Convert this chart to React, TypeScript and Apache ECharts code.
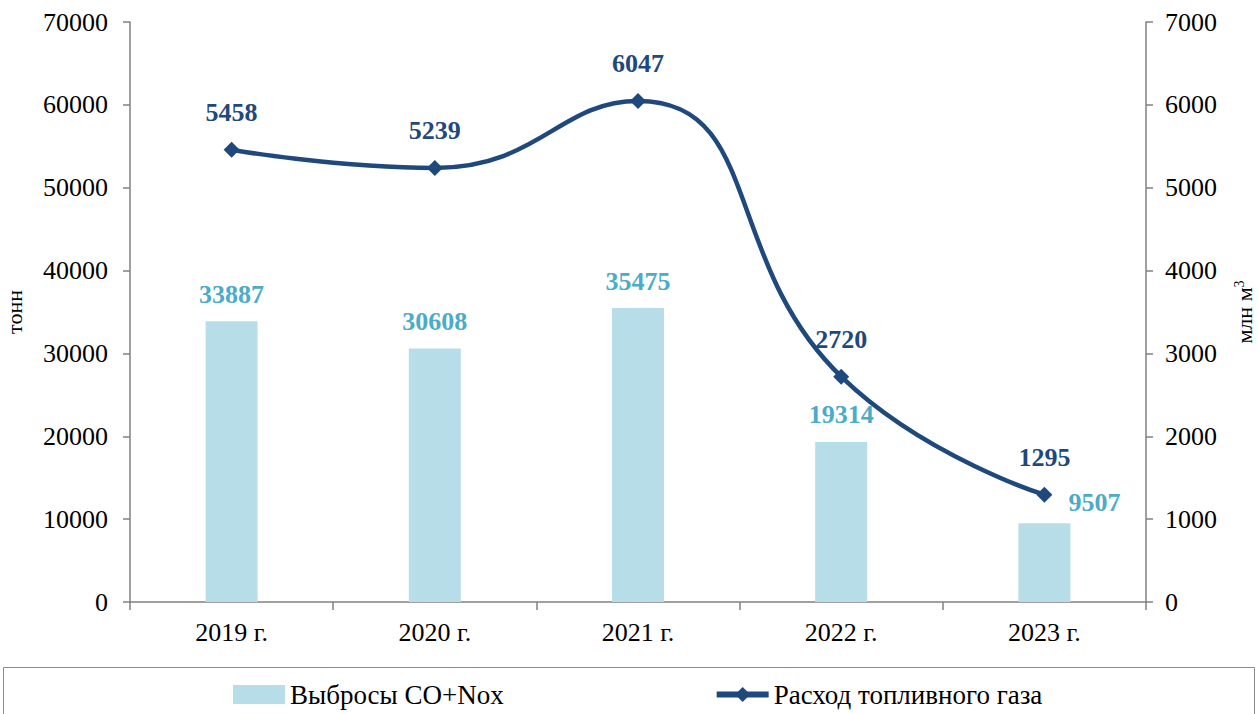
import React, { useEffect, useRef } from "react";
import * as echarts from "echarts";

const categories = ["2019 г.", "2020 г.", "2021 г.", "2022 г.", "2023 г."];
const emissions = [33887, 30608, 35475, 19314, 9507];
const fuelGas = [5458, 5239, 6047, 2720, 1295];
const emissionsName = "Выбросы CO+Nox";
const fuelName = "Расход топливного газа";

const FONT = "'Liberation Serif', 'Times New Roman', serif";
const BAR = "#b7dde8";
const BAR_LABEL = "#4bacc6";
const LINE = "#1f497d";
const AXIS = "#808080";

export default function App() {
  const ref = useRef<HTMLDivElement>(null);
  useEffect(() => {
    if (!ref.current) return;
    const chart = echarts.init(ref.current, null, { renderer: "svg" });
    chart.setOption({
      animation: false,
      textStyle: { fontFamily: FONT },
      grid: { left: 130, right: 112, top: 22, bottom: 112, outerBoundsMode: "none", containLabel: false },
      legend: {
        left: 228,
        top: 676,
        itemWidth: 52,
        itemHeight: 19,
        itemGap: 210,
        textStyle: { fontFamily: FONT, fontSize: 27, color: "#000" },
        data: [
          { name: emissionsName, icon: "rect" },
          { name: fuelName, lineStyle: { width: 6 } },
        ],
      },
      graphic: [
        {
          type: "rect",
          shape: { x: 3.5, y: 667.5, width: 1251, height: 80 },
          style: { fill: "none", stroke: "#8c8c8c", lineWidth: 1 },
          silent: true,
        },
      ],
      xAxis: {
        type: "category",
        data: categories,
        axisLine: { lineStyle: { color: AXIS, width: 1.5 } },
        axisTick: { show: true, length: 8, lineStyle: { color: AXIS, width: 1.5 } },
        axisLabel: { fontFamily: FONT, fontSize: 26, color: "#000", margin: 17 },
      },
      yAxis: [
        {
          type: "value",
          min: 0,
          max: 70000,
          interval: 10000,
          name: "тонн",
          nameLocation: "middle",
          nameGap: 105,
          nameRotate: 90,
          nameTextStyle: { fontFamily: FONT, fontSize: 22, color: "#000" },
          axisLine: { show: true, lineStyle: { color: AXIS, width: 1.5 } },
          axisTick: { show: true, length: 7, lineStyle: { color: AXIS, width: 1.5 } },
          axisLabel: { fontFamily: FONT, fontSize: 26, color: "#000", margin: 22, formatter: (v: number) => String(v) },
          splitLine: { show: false },
        },
        {
          type: "value",
          min: 0,
          max: 7000,
          interval: 1000,
          position: "right",
          name: "млн м{sup|3}",
          nameLocation: "middle",
          nameGap: 86,
          nameRotate: 90,
          nameTextStyle: {
            fontFamily: FONT,
            fontSize: 22,
            color: "#000",
            rich: { sup: { fontFamily: FONT, fontSize: 14, color: "#000", verticalAlign: "top", padding: [0, 0, 10, 0] } },
          },
          axisLine: { show: true, lineStyle: { color: AXIS, width: 1.5 } },
          axisTick: { show: true, length: 7, lineStyle: { color: AXIS, width: 1.5 } },
          axisLabel: { fontFamily: FONT, fontSize: 26, color: "#000", margin: 19, formatter: (v: number) => String(v) },
          splitLine: { show: false },
        },
      ],
      series: [
        {
          name: emissionsName,
          type: "bar",
          yAxisIndex: 0,
          barWidth: 52,
          itemStyle: { color: BAR },
          data: emissions.map((v, i) =>
            i === emissions.length - 1
              ? { value: v, label: { offset: [50, 6] } }
              : v
          ),
          label: {
            show: true,
            position: "top",
            distance: 14,
            fontFamily: FONT,
            fontSize: 26,
            fontWeight: "bold",
            color: BAR_LABEL,
          },
        },
        {
          name: fuelName,
          type: "line",
          yAxisIndex: 1,
          smooth: 0.5,
          symbol: "diamond",
          symbolSize: 16,
          lineStyle: { color: LINE, width: 4.5 },
          itemStyle: { color: LINE },
          data: fuelGas,
          label: {
            show: true,
            position: "top",
            distance: 16,
            fontFamily: FONT,
            fontSize: 26,
            fontWeight: "bold",
            color: LINE,
          },
        },
      ],
    });
    return () => chart.dispose();
  }, []);
  return <div ref={ref} style={{ position: "absolute", left: 0, top: 0, width: 1258, height: 714 }} />;
}
